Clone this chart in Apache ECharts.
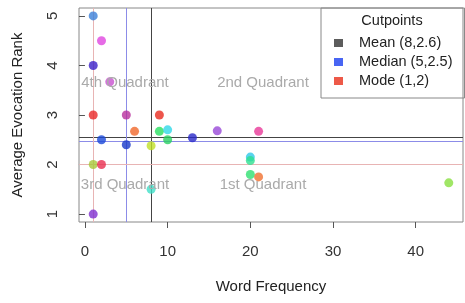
<!DOCTYPE html>
<html>
<head>
<meta charset="utf-8">
<script src="https://cdn.jsdelivr.net/npm/echarts@6/dist/echarts.min.js"></script>
<style>
  html, body { margin: 0; padding: 0; background: #fff; }
  #chart { width: 465px; height: 303px; }
</style>
</head>
<body>
<div id="chart"></div>
<script>
// word frequency (x) and average evocation rank (y) per word
var wordFreq  = [1, 2, 1, 3, 1, 5, 9, 6, 9, 10, 10, 16, 21, 2, 5, 13, 8, 1, 2, 20, 20, 20, 21, 8, 1, 44];
var evocRank  = [5, 4.5, 4, 3.67, 3, 3, 3, 2.67, 2.67, 2.7, 2.5, 2.68, 2.67, 2.5, 2.4, 2.54, 2.38, 2, 2, 2.15, 2.08, 1.8, 1.75, 1.5, 1, 1.63];
var pointColors = ['#3b80d8', '#e046e0', '#3a1fc8', '#c851d0', '#e82828', '#b8309c', '#e82a1e', '#f0682a',
  '#28e060', '#30d8e8', '#28d060', '#9848d8', '#e83898', '#1a48d8', '#1838c8', '#2828c8', '#c0e028',
  '#a8c838', '#e83050', '#30c8e8', '#30e090', '#30e070', '#f07030', '#40e0c8', '#8030d0', '#88e040'];

// cutpoints: name, x, y
var cutNames = ['Mean (8,2.6)', 'Median (5,2.5)', 'Mode (1,2)'];
var cutX = [8, 5, 1];
var cutY = [2.55, 2.48, 2];

var xTicks = [0, 10, 20, 30, 40];
var yTicks = [1, 2, 3, 4, 5];
var quadrantLabels = ['4th Quadrant', '2nd Quadrant', '3rd Quadrant', '1st Quadrant'];

var legendColors = ['#333333', '#1a3ef0', '#e8301a'];
var lineColors = ['#444444', '#8c8ce8', '#e8b4b4'];

var chart = echarts.init(document.getElementById('chart'));

var font = 'Liberation Sans, Arial, sans-serif';

var series = [{
  type: 'scatter',
  name: 'words',
  symbolSize: 9,
  z: 5,
  data: wordFreq.map(function (x, i) {
    return { value: [x, evocRank[i]], itemStyle: { color: pointColors[i] } };
  })
}];

cutNames.forEach(function (n, i) {
  series.push({
    type: 'scatter',
    name: n,
    data: [],
    itemStyle: { color: legendColors[i] },
    markLine: {
      silent: true,
      symbol: 'none',
      label: { show: false },
      lineStyle: { color: lineColors[i], width: 1, type: 'solid' },
      data: [{ xAxis: cutX[i] }, { yAxis: cutY[i] }]
    }
  });
});

var qPos = [[125, 83], [263, 83], [125, 185], [263, 185]];

chart.setOption({
  animation: false,
  textStyle: { fontFamily: font },
  grid: {
    left: 79, right: 2, top: 8, bottom: 81,
    show: true, borderColor: '#888', borderWidth: 1
  },
  xAxis: {
    type: 'value',
    min: -0.72, max: 45.72,
    name: 'Word Frequency',
    nameLocation: 'middle',
    nameGap: 57,
    nameTextStyle: { fontSize: 15, color: '#222' },
    axisLine: { show: false },
    splitLine: { show: false },
    axisTick: { show: true, customValues: xTicks, length: 6, lineStyle: { color: '#555' } },
    axisLabel: { customValues: xTicks, margin: 22, fontSize: 15, color: '#333' }
  },
  yAxis: {
    type: 'value',
    min: 0.84, max: 5.16,
    name: 'Average Evocation Rank',
    nameLocation: 'middle',
    nameGap: 54,
    nameTextStyle: { fontSize: 15, color: '#222' },
    axisLine: { show: false },
    splitLine: { show: false },
    axisTick: { show: true, customValues: yTicks, length: 6, lineStyle: { color: '#555' } },
    axisLabel: { customValues: yTicks, margin: 19, rotate: 90, fontSize: 15, color: '#333' }
  },
  legend: {
    orient: 'vertical',
    left: 321, top: 8,
    data: cutNames,
    icon: 'rect',
    itemWidth: 9, itemHeight: 8,
    itemGap: 3,
    padding: [27, 12, 9, 13],
    borderColor: '#888', borderWidth: 1,
    textStyle: { fontSize: 14.5, color: '#222', lineHeight: 16, padding: [0, 0, 0, 11] },
    selectedMode: false
  },
  graphic: [{
    type: 'text', x: 392, y: 21,
    style: { text: 'Cutpoints', fontSize: 14.5, fill: '#222', fontFamily: font, align: 'center', verticalAlign: 'middle' }
  }].concat(quadrantLabels.map(function (t, i) {
    return {
      type: 'text', x: qPos[i][0], y: qPos[i][1], z: 10,
      style: { text: t, fontSize: 15, fill: '#aaa', fontFamily: font, align: 'center', verticalAlign: 'middle' }
    };
  })),
  series: series
});
</script>
</body>
</html>
